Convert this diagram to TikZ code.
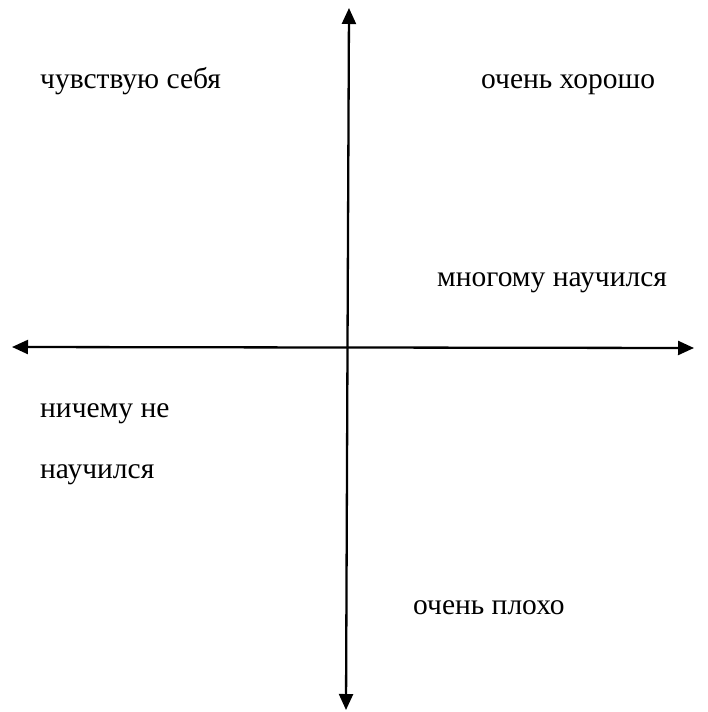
\documentclass[tikz,border=0pt]{standalone}
\usepackage{fontspec}
\setmainfont{Liberation Serif}
\usetikzlibrary{arrows.meta}
\begin{document}
\begin{tikzpicture}[x=1pt,y=-1pt,
  axis/.style={line width=2.3pt,-{Triangle[length=16pt,width=14pt]}},
  lbl/.style={anchor=base west,inner sep=0pt,font=\fontsize{29.5}{34}\selectfont}]
\useasboundingbox (0,0) rectangle (707,712);
\coordinate (c) at (347.5,347.5);
\coordinate (top) at (349,8);
\coordinate (bot) at (346,710);
\coordinate (lft) at (12,347);
\coordinate (rgt) at (694,348);
\draw[axis] (c) -- (top);
\draw[axis] (c) -- (bot);
\draw[axis] (c) -- (lft);
\draw[axis] (c) -- (rgt);
\node[lbl] (t1) at (40,88) {чувствую себя};
\node[lbl] (t2) at (481,88) {очень хорошо};
\node[lbl] (t3) at (437,286) {многому научился};
\node[lbl] (t4) at (40,417) {ничему не};
\node[lbl] (t5) at (40,478) {научился};
\node[lbl] (t6) at (413,614) {очень плохо};
\end{tikzpicture}
\end{document}
